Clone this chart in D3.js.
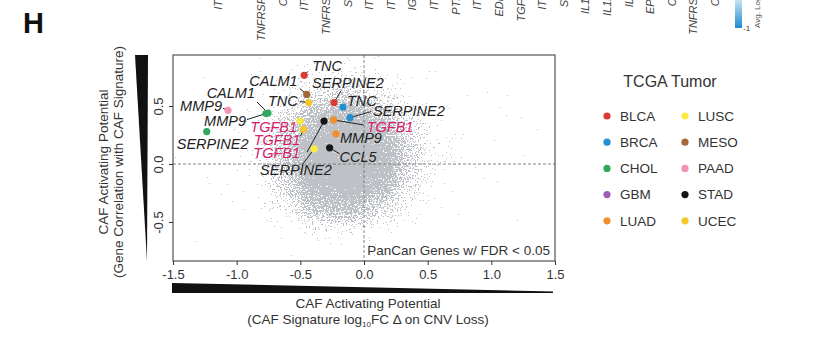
<!DOCTYPE html>
<html>
<head>
<meta charset="utf-8">
<script src="https://cdn.jsdelivr.net/npm/d3@7"></script>
<style>
  body { margin: 0; background: white; }
  svg { font-family: "Liberation Sans", Arial, sans-serif; }
</style>
</head>
<body>
<svg id="chart" width="816" height="359"></svg>
<script>
// highlighted genes (one point per gene/tumor pair)
var geneNames  = ["TNC", "CALM1", "TNC", "SERPINE2", "TNC", "SERPINE2", "MMP9", "CALM1", "MMP9",
                  "SERPINE2", "TGFB1", "TGFB1", "SERPINE2", "TGFB1", "TGFB1", "MMP9", "CCL5"]
var geneTumors = ["BLCA", "MESO", "UCEC", "BLCA", "BRCA", "BRCA", "PAAD", "CHOL", "CHOL",
                  "CHOL", "LUSC", "UCEC", "LUSC", "STAD", "LUAD", "LUAD", "STAD"]
var geneX = [-0.47, -0.45, -0.434, -0.235, -0.165, -0.11, -1.068, -0.754, -0.77,
             -1.235, -0.502, -0.476, -0.392, -0.314, -0.238, -0.22, -0.27]
var geneY = [0.765, 0.60, 0.53, 0.53, 0.49, 0.40, 0.463, 0.44, 0.435,
             0.28, 0.37, 0.30, 0.13, 0.37, 0.38, 0.26, 0.14]

var tumors = ["BLCA", "BRCA", "CHOL", "GBM", "LUAD", "LUSC", "MESO", "PAAD", "STAD", "UCEC"]
var tumorColors = ["#d93a35", "#2490d2", "#32a85c", "#9a5fb2", "#f0902c",
                   "#f7ea45", "#a3683c", "#f293b6", "#151515", "#f6c62a"]

// background genes, density (rows = y bins, cols = x bins)
var cloudXBins = [-1.375, -1.125, -0.875, -0.625, -0.375, -0.125, 0.125, 0.375, 0.625, 0.875, 1.125, 1.375]
var cloudYBins = [0.875, 0.625, 0.375, 0.125, -0.125, -0.375, -0.625]
var cloudDensity = [
  [0.04, 0.06, 0.08, 0.12, 0.18, 0.20, 0.15, 0.10, 0.07, 0.05, 0.04, 0.03],
  [0.06, 0.08, 0.12, 0.24, 0.40, 0.48, 0.35, 0.18, 0.11, 0.08, 0.06, 0.05],
  [0.07, 0.10, 0.18, 0.42, 0.72, 0.88, 0.64, 0.36, 0.16, 0.10, 0.07, 0.06],
  [0.08, 0.11, 0.22, 0.54, 0.95, 1.00, 0.88, 0.48, 0.18, 0.11, 0.08, 0.06],
  [0.07, 0.10, 0.20, 0.50, 0.92, 1.00, 0.82, 0.42, 0.16, 0.10, 0.07, 0.05],
  [0.05, 0.07, 0.14, 0.32, 0.62, 0.68, 0.50, 0.24, 0.11, 0.07, 0.05, 0.04],
  [0.03, 0.04, 0.06, 0.11, 0.18, 0.20, 0.14, 0.09, 0.05, 0.04, 0.03, 0.03]
]

var xTicks = [-1.5, -1.0, -0.5, 0.0, 0.5, 1.0, 1.5]
var yTicks = [-0.5, 0.0, 0.5]

// cut-off column labels of the heatmap above
var topGenes = ["ITGB1", "F3", "TNFRSF12A", "CD36", "ITGAV", "TNFRSF1A", "SDC1", "ITGB4", "ITGA3",
                "IGF1R", "ITGB2", "PTPRS", "ITGA4", "EDNRA", "TGFBR2", "ITGA5", "SDC4", "IL11RA",
                "IL1RAP", "IL6ST", "EPHA2", "CD44", "TNFRSF1B", "CD47"]

// label placement in px relative to each point: text offset, anchor, leader line end
var labelLayout = [
  {dx: 8, dy: -4, a: "start", lx: 4, ly: -4},
  {dx: -9, dy: -8, a: "end", lx: -7, ly: -6},
  {dx: -11, dy: 3, a: "end", lx: -9, ly: -1},
  {dx: -22, dy: -15, a: "start", lx: 7, ly: -12},
  {dx: 4, dy: -1, a: "start", lx: 0, ly: 0},
  {dx: 23, dy: -2, a: "start", lx: 21, ly: -6},
  {dx: -6, dy: 1, a: "end", lx: -5, ly: -2},
  {dx: -13, dy: -15, a: "end", lx: -11, ly: -11},
  {dx: -20, dy: 12, a: "end", lx: -19, ly: 6},
  {dx: -30, dy: 17, a: "start", lx: 0, ly: 0},
  {dx: -3, dy: 11, a: "end", lx: 0, ly: 0},
  {dx: -3, dy: 16, a: "end", lx: -3, ly: 7},
  {dx: -54, dy: 26, a: "start", lx: -12, ly: 16},
  {dx: -24, dy: 37, a: "end", lx: -17, ly: 31},
  {dx: 33, dy: 12, a: "start", lx: 30, ly: 5},
  {dx: 4, dy: 9, a: "start", lx: 0, ly: 0},
  {dx: 10, dy: 14, a: "start", lx: 10, ly: 6}
]

var dims = {left: 173, right: 555, top: 55, bottom: 261}
var svg = d3.select("#chart")

var x = d3.scaleLinear().domain([-1.5, 1.5]).range([dims.left, dims.right])
var y = d3.scaleLinear().domain([-0.836, 0.94]).range([dims.bottom, dims.top])
var color = d3.scaleOrdinal().domain(tumors).range(tumorColors)

var defs = svg.append("defs")
defs.append("clipPath").attr("id", "plotClip")
  .append("rect")
  .attr("x", dims.left).attr("y", dims.top)
  .attr("width", dims.right - dims.left).attr("height", dims.bottom - dims.top)

// speckled cloud: blurred density, thresholded against noise so it breaks into dots
// a pixel shows when 2*noise + 1.4*density - 1.25 >= 0.5
var f = defs.append("filter").attr("id", "speckle")
  .attr("filterUnits", "userSpaceOnUse")
  .attr("x", dims.left).attr("y", dims.top)
  .attr("width", dims.right - dims.left).attr("height", dims.bottom - dims.top)
  .attr("color-interpolation-filters", "sRGB")
f.append("feGaussianBlur").attr("in", "SourceGraphic").attr("stdDeviation", 9).attr("result", "blur")
f.append("feTurbulence").attr("type", "fractalNoise").attr("baseFrequency", 0.65)
  .attr("numOctaves", 2).attr("seed", 7).attr("result", "noise")
f.append("feColorMatrix").attr("in", "noise").attr("type", "matrix")
  .attr("values", "0 0 0 0 0  0 0 0 0 0  0 0 0 0 0  1 0 0 0 0").attr("result", "n")
f.append("feComposite").attr("in", "blur").attr("in2", "n").attr("operator", "arithmetic")
  .attr("k1", 0).attr("k2", 1.4).attr("k3", 2).attr("k4", -1.25).attr("result", "mix")
f.append("feComponentTransfer").attr("in", "mix").attr("result", "mask")
  .append("feFuncA").attr("type", "discrete").attr("tableValues", "0 1")
f.append("feFlood").attr("flood-color", "#bec2c7").attr("result", "grey")
f.append("feComposite").attr("in", "grey").attr("in2", "mask").attr("operator", "in")

var cells = []
cloudYBins.forEach((yb, i) => {
  cloudXBins.forEach((xb, j) => {
    cells.push({x: xb, y: yb, d: cloudDensity[i][j]})
  })
})

svg.append("g")
  .attr("clip-path", "url(#plotClip)")
  .append("g")
  .attr("filter", "url(#speckle)")
  .selectAll("rect")
  .data(cells)
  .enter()
  .append("rect")
  .attr("x", d => x(d.x - 0.125))
  .attr("y", d => y(d.y + 0.125))
  .attr("width", x(0.25) - x(0))
  .attr("height", y(0) - y(0.25))
  .attr("fill", "black")
  .attr("fill-opacity", d => d.d)

// zero lines
svg.append("line")
  .attr("x1", x(0)).attr("x2", x(0)).attr("y1", dims.top).attr("y2", dims.bottom)
  .attr("stroke", "#777").attr("stroke-width", 0.9).attr("stroke-dasharray", "3,2")
svg.append("line")
  .attr("x1", dims.left).attr("x2", dims.right).attr("y1", y(0)).attr("y2", y(0))
  .attr("stroke", "#777").attr("stroke-width", 0.9).attr("stroke-dasharray", "3,2")

// frame
svg.append("rect")
  .attr("x", dims.left).attr("y", dims.top)
  .attr("width", dims.right - dims.left).attr("height", dims.bottom - dims.top)
  .attr("fill", "none").attr("stroke", "#333").attr("stroke-width", 1)

// axes
var xAxis = svg.append("g")
  .attr("transform", `translate(0,${dims.bottom})`)
  .call(d3.axisBottom(x).tickValues(xTicks).tickSize(4).tickPadding(5).tickFormat(d => d.toFixed(1)))
xAxis.select(".domain").remove()
xAxis.selectAll("line").attr("stroke", "#333")
xAxis.selectAll("text").style("font-size", "13px").attr("fill", "#333")
  .style("font-family", "Liberation Sans, Arial, sans-serif")

var yAxis = svg.append("g")
  .attr("transform", `translate(${dims.left},0)`)
  .call(d3.axisLeft(y).tickValues(yTicks).tickSize(4).tickFormat(d => d.toFixed(1)))
yAxis.select(".domain").remove()
yAxis.selectAll("line").attr("stroke", "#333")
yAxis.selectAll("text")
  .attr("transform", "rotate(-90)")
  .attr("x", 0).attr("y", -10).attr("dy", 0)
  .style("text-anchor", "middle")
  .style("font-size", "13px").attr("fill", "#333")
  .style("font-family", "Liberation Sans, Arial, sans-serif")

// wedges along the axes
svg.append("polygon")
  .attr("points", [[dims.left - 38, dims.top], [dims.left - 25, dims.top], [dims.left - 26, dims.bottom]].join(" "))
  .attr("fill", "#111")
svg.append("polygon")
  .attr("points", [[x(-1.5) - 1, dims.bottom + 22], [x(1.5) - 2, dims.bottom + 30.5],
                   [x(1.5) - 2, dims.bottom + 32], [x(-1.5) - 1, dims.bottom + 32]].join(" "))
  .attr("fill", "#111")

svg.append("text")
  .attr("x", dims.right - 5).attr("y", dims.bottom - 6)
  .style("text-anchor", "end").style("font-size", "13.5px").attr("fill", "#333")
  .text("PanCan Genes w/ FDR < 0.05")

// highlighted points with labels
var genes = geneNames.map((g, i) => ({name: g, tumor: geneTumors[i], x: geneX[i], y: geneY[i], l: labelLayout[i]}))

svg.append("g").selectAll("line")
  .data(genes.filter(d => d.l.lx != 0 || d.l.ly != 0))
  .enter()
  .append("line")
  .attr("x1", d => x(d.x)).attr("y1", d => y(d.y))
  .attr("x2", d => x(d.x) + d.l.lx).attr("y2", d => y(d.y) + d.l.ly)
  .attr("stroke", "#222").attr("stroke-width", 1)

svg.append("g").selectAll("circle")
  .data(genes)
  .enter()
  .append("circle")
  .attr("cx", d => x(d.x))
  .attr("cy", d => y(d.y))
  .attr("r", 3.6)
  .attr("fill", d => color(d.tumor))

svg.append("g").selectAll("text")
  .data(genes)
  .enter()
  .append("text")
  .attr("x", d => x(d.x) + d.l.dx)
  .attr("y", d => y(d.y) + d.l.dy)
  .style("text-anchor", d => d.l.a)
  .style("font-style", "italic")
  .style("font-size", "14.5px")
  .attr("fill", d => d.name == "TGFB1" ? "#d8206a" : "#222")
  .text(d => d.name)

// axis titles
svg.append("text")
  .attr("x", 368).attr("y", 308)
  .style("text-anchor", "middle").style("font-size", "13.5px").attr("fill", "#333")
  .text("CAF Activating Potential")
var xt2 = svg.append("text")
  .attr("x", 368).attr("y", 324)
  .style("text-anchor", "middle").style("font-size", "13.5px").attr("fill", "#333")
xt2.append("tspan").text("(CAF Signature log")
xt2.append("tspan").attr("dy", 3).style("font-size", "8px").text("10")
xt2.append("tspan").attr("dy", -3).text("FC \u0394 on CNV Loss)")

svg.append("text")
  .attr("transform", "translate(108,162) rotate(-90)")
  .style("text-anchor", "middle").style("font-size", "13.5px").attr("fill", "#333")
  .text("CAF Activating Potential")
svg.append("text")
  .attr("transform", "translate(123,162) rotate(-90)")
  .style("text-anchor", "middle").style("font-size", "13.5px").attr("fill", "#333")
  .text("(Gene Correlation with CAF Signature)")

// legend
svg.append("text")
  .attr("x", 670).attr("y", 87)
  .style("text-anchor", "middle").style("font-size", "16px").attr("fill", "#333")
  .text("TCGA Tumor")

var legend = svg.append("g").selectAll("g")
  .data(tumors)
  .enter()
  .append("g")
  .attr("transform", (d, i) => `translate(${i < 5 ? 607 : 685},${116 + (i % 5) * 26.2})`)
legend.append("circle").attr("r", 3.6).attr("fill", d => color(d))
legend.append("text")
  .attr("x", 13).attr("dy", "0.36em")
  .style("font-size", "13.5px").attr("fill", "#333")
  .text(d => d)

// panel letter
svg.append("text")
  .attr("x", 23).attr("y", 33)
  .style("font-size", "29px").style("font-weight", "bold").attr("fill", "#111")
  .text("H")

// heatmap column labels cut off at the top
var colX = d3.scalePoint().domain(topGenes).range([218, 715])
svg.append("g").selectAll("text")
  .data(topGenes)
  .enter()
  .append("text")
  .attr("transform", d => `translate(${colX(d) + 4},-22) rotate(-90)`)
  .style("text-anchor", "end")
  .style("font-style", "italic")
  .style("font-size", "11px")
  .attr("fill", "#444")
  .text(d => d)

var grad = defs.append("linearGradient").attr("id", "cbar")
  .attr("x1", 0).attr("y1", 0).attr("x2", 0).attr("y2", 1)
grad.append("stop").attr("offset", "0%").attr("stop-color", "#eef5fb")
grad.append("stop").attr("offset", "100%").attr("stop-color", "#1a8bd0")
svg.append("rect")
  .attr("x", 735).attr("y", -6).attr("width", 7).attr("height", 34)
  .attr("fill", "url(#cbar)")
svg.append("text")
  .attr("x", 743).attr("y", 31)
  .style("font-size", "8px").attr("fill", "#333")
  .text("-1")
svg.append("text")
  .attr("transform", "translate(760,28) rotate(-90)")
  .style("font-size", "8px").attr("fill", "#555")
  .text("Avg. Log2FC")
</script>
</body>
</html>
